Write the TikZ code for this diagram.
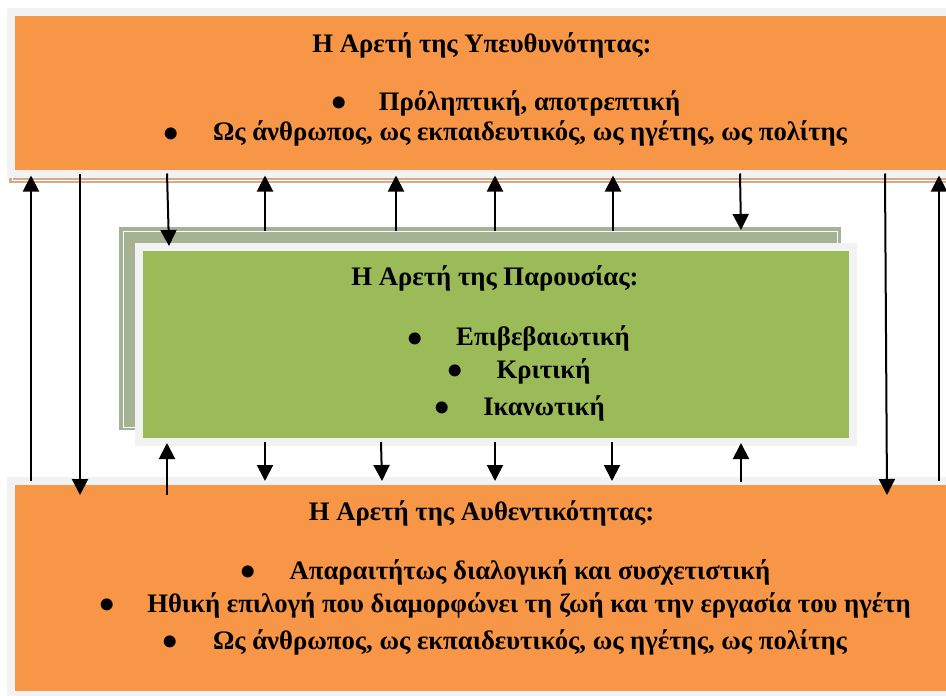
\documentclass[tikz,border=0pt]{standalone}
\usepackage{fontspec}
\setmainfont{Liberation Serif}
\usetikzlibrary{arrows.meta,calc}
\definecolor{boxorange}{HTML}{F79646}
\definecolor{boxgreen}{HTML}{9BBB59}
\definecolor{rimgray}{HTML}{F2F2F2}
\definecolor{shadegreen}{HTML}{A6B294}
\definecolor{shadetan}{HTML}{D8A888}
\newlength\refwidth
% font size chosen so that the long line is 634pt wide
\AtBeginDocument{%
  \settowidth\refwidth{\fontsize{10pt}{12pt}\selectfont\bfseries Ως άνθρωπος, ως εκπαιδευτικός, ως ηγέτης, ως πολίτης}%
  \pgfmathsetmacro\fsize{6340/\refwidth}\global\let\fsize\fsize
  \pgfmathsetmacro\bsize{1.65*\fsize}\global\let\bsize\bsize}
\newcommand\listdot{\smash{•}}
\begin{document}
\begin{tikzpicture}[x=1pt,y=-1pt,
  panel/.style={draw=rimgray, line width=8pt, outer sep=0pt, inner sep=0pt, anchor=north west},
  shade/.style={outer sep=0pt, inner sep=0pt, anchor=north west},
  txt/.style={font=\fontsize{\fsize pt}{\fsize pt}\selectfont\bfseries, inner sep=0pt, anchor=base},
  bul/.style={font=\fontsize{\bsize pt}{\bsize pt}\selectfont\bfseries, inner sep=0pt, anchor=base, yshift=-7.5pt},
  conn/.style={-{Triangle[length=16pt,width=16pt]}, line width=2pt, black}]
\useasboundingbox (0,0) rectangle (946,696);
\clip (0,0) rectangle (946,696);

% upper panel with its shadow
\node[shade, fill=shadetan, minimum width=946pt, minimum height=163pt] (tanshade) at (9,20) {};
\draw[white, line width=0.7pt] ($(tanshade.north west)+(3,3)$) rectangle ($(tanshade.south east)+(-3,-2.5)$);
\node[panel, fill=boxorange, minimum width=944pt, minimum height=162pt] (top) at (11,11.5) {};

% middle panel with its shadow
\node[shade, fill=shadegreen, minimum width=722pt, minimum height=203pt] (shade) at (119,227) {};
\draw[white, line width=0.7pt] ($(shade.north west)+(4,4)$) rectangle ($(shade.south east)+(-4,-2.5)$);
\node[panel, fill=boxgreen, minimum width=714pt, minimum height=195pt] (front) at (139,247) {};

% lower panel
\node[panel, fill=boxorange, minimum width=944pt, minimum height=214pt] (bot) at (11,481) {};

% upper panel text
\node[txt] (toptitle) at (482,52) {Η Αρετή της Υπευθυνότητας:};
\node[bul] (topb1) at (339,110) {\listdot};
\node[txt] (topl1) at (529.5,110) {Πρόληπτική, αποτρεπτική};
\node[bul] (topb2) at (171,140.5) {\listdot};
\node[txt] (topl2) at (530,140.5) {Ως άνθρωπος, ως εκπαιδευτικός, ως ηγέτης, ως πολίτης};

% middle panel text
\node[txt] (midtitle) at (495,285.5) {Η Αρετή της Παρουσίας:};
\node[bul] (midb1) at (415,345.5) {\listdot};
\node[txt] (midl1) at (543,345.5) {Επιβεβαιωτική};
\node[bul] (midb2) at (455,378) {\listdot};
\node[txt] (midl2) at (543.5,378) {Κριτική};
\node[bul] (midb3) at (442,415) {\listdot};
\node[txt] (midl3) at (544,415) {Ικανωτική};

% lower panel text
\node[txt] (bottitle) at (481.5,520.5) {Η Αρετή της Αυθεντικότητας:};
\node[bul] (botb1) at (248,579) {\listdot};
\node[txt] (botl1) at (530,579) {Απαραιτήτως διαλογική και συσχετιστική};
\node[bul] (botb2) at (107,612) {\listdot};
\node[txt] (botl2) at (529,612) {Ηθική επιλογή που διαμορφώνει τη ζωή και την εργασία του ηγέτη};
\node[bul] (botb3) at (170,649) {\listdot};
\node[txt] (botl3) at (530,649) {Ως άνθρωπος, ως εκπαιδευτικός, ως ηγέτης, ως πολίτης};

% horizontal positions of the connectors
\coordinate (xa) at (31,0);   \coordinate (xb) at (80,0);
\coordinate (xc) at (885,0);  \coordinate (xc2) at (887,0);
\coordinate (xd) at (939,0);
\coordinate (xe) at (167,0);  \coordinate (xe2) at (169,0);
\coordinate (xf) at (265,0);  \coordinate (xg) at (396,0);
\coordinate (xh) at (495,0);  \coordinate (xi) at (613,0);
\coordinate (xj) at (740,0);  \coordinate (xj2) at (741,0);
\coordinate (xk) at (167,0);  \coordinate (xl) at (265,0);
\coordinate (xm) at (381,0);  \coordinate (xm2) at (382,0);
\coordinate (xn) at (495,0);  \coordinate (xo) at (612,0);
\coordinate (xp) at (741,0);

% connectors between upper and lower panel
\draw[conn] (bot.north -| xa) -- ($(top.south -| xa)+(0,2)$);
\draw[conn] (top.south -| xb) -- ($(bot.north -| xb)+(0,14)$);
\draw[conn] (top.south -| xc) -- ($(bot.north -| xc2)+(0,14)$);
\draw[conn] (bot.north -| xd) -- ($(top.south -| xd)+(0,2)$);

% connectors between upper and middle panel
\draw[conn] (top.south -| xe) -- ($(front.north -| xe2)+(0,-1)$);
\draw[conn] ($(shade.north -| xf)+(0,4)$) -- ($(top.south -| xf)+(0,2)$);
\draw[conn] ($(shade.north -| xg)+(0,4)$) -- ($(top.south -| xg)+(0,2)$);
\draw[conn] ($(shade.north -| xh)+(0,4)$) -- ($(top.south -| xh)+(0,2)$);
\draw[conn] ($(shade.north -| xi)+(0,4)$) -- ($(top.south -| xi)+(0,2)$);
\draw[conn] (top.south -| xj) -- ($(shade.north -| xj2)+(0,3)$);

% connectors between middle and lower panel
\draw[conn] ($(bot.north -| xk)+(0,14)$) -- ($(front.south -| xk)+(0,1)$);
\draw[conn] (front.south -| xl) -- (bot.north -| xl);
\draw[conn] (front.south -| xm) -- (bot.north -| xm2);
\draw[conn] (front.south -| xn) -- (bot.north -| xn);
\draw[conn] (front.south -| xo) -- (bot.north -| xo);
\draw[conn] ($(bot.north -| xp)+(0,1)$) -- ($(front.south -| xp)+(0,1)$);
\end{tikzpicture}
\end{document}
